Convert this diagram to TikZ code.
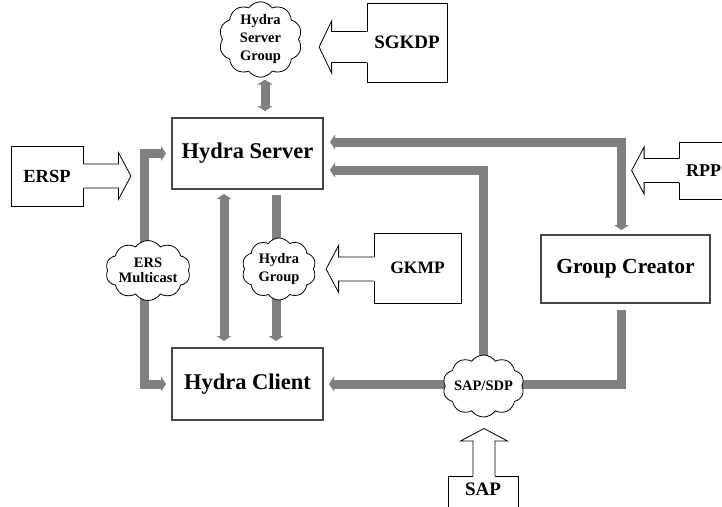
\documentclass[tikz,border=0pt]{standalone}
\usepackage{fontspec}
\setmainfont{Liberation Serif}
\usetikzlibrary{shapes.symbols,arrows.meta,calc}
\pgfdeclarelayer{bg}
\pgfsetlayers{bg,main}
\definecolor{pipegray}{RGB}{128,128,128}
\definecolor{edgegray}{RGB}{70,70,70}
\tikzset{
 mainbox/.style={draw=edgegray, line width=2pt, fill=white, font=\fontsize{22.5}{26}\selectfont\bfseries, inner sep=0pt},
 smallbox/.style={draw=black, line width=0.8pt, fill=white, font=\fontsize{17.5}{20}\selectfont\bfseries, inner sep=0pt},
 bigtext/.style={font=\fontsize{19}{22}\selectfont\bfseries},
 puff/.style={cloud, cloud puffs=10, cloud puff arc=110, cloud ignores aspect, draw=black, line width=0.8pt, fill=white, inner sep=0pt, align=center, font=\fontsize{14.5}{18}\selectfont\bfseries},
 pipe/.style={draw=pipegray, line width=9pt},
 ptip/.tip={Triangle[width=15pt,length=5pt]},
 hollow/.style={draw=black, line width=0.8pt}
}
\newcommand{\hollowarr}[4]{%
 \begin{scope}[shift={(#1)}, rotate=#2]
  \fill[white] (-1.5,-#3) -- (35,-#3) -- (35,-#4) -- (47.5,0) -- (35,#4) -- (35,#3) -- (-1.5,#3) -- cycle;
  \draw[hollow] (0,-#3) -- (35,-#3) -- (35,-#4) -- (47.5,0) -- (35,#4) -- (35,#3) -- (0,#3);
 \end{scope}}
\begin{document}
\begin{tikzpicture}[x=1pt,y=-1pt]
\useasboundingbox (0,0) rectangle (722,506);
% main boxes
\node[mainbox, minimum width=151pt, minimum height=71pt] (hs) at (247.5,153.5) {Hydra Server};
\node[mainbox, minimum width=151pt, minimum height=72pt] (hc) at (247.5,384) {Hydra Client};
\node[mainbox, font=\fontsize{21.5}{25}\selectfont\bfseries, minimum width=169pt, minimum height=68pt] (gc) at (625.5,269) {Group Creator};
% clouds
\node[puff, minimum width=83pt, minimum height=73pt] (hsg) at (260.5,39.5) {Hydra\\Server\\Group};
\node[puff, font=\fontsize{14.5}{15}\selectfont\bfseries, minimum width=80pt, minimum height=60pt] (ers) at (148,270.5) {ERS\\Multicast};
\node[puff, minimum width=74pt, minimum height=62pt] (hg) at (279,269) {Hydra\\Group};
\node[puff, minimum width=77pt, minimum height=62pt] (sapc) at (483.5,386) {SAP/SDP};
% protocol boxes
\node[smallbox, bigtext, minimum width=80pt, minimum height=79pt] (sgkdp) at (407,42.5) {SGKDP};
\hollowarr{$(sgkdp.west)+(0,4.5)$}{180}{15.5}{26}
\node[smallbox, font=\fontsize{18.5}{21}\selectfont\bfseries, minimum width=72pt, minimum height=60pt] (ersp) at (47,176) {ERSP};
\hollowarr{ersp.east}{0}{12}{23.5}
\node[smallbox, minimum width=87pt, minimum height=70pt] (gkmp) at (417.5,268) {GKMP};
\hollowarr{$(gkmp.west)+(0,1)$}{180}{12}{23.5}
\node[smallbox, font=\fontsize{18}{21}\selectfont\bfseries, minimum width=48pt, minimum height=57pt] (rpp) at (703.5,170.5) {RPP};
\hollowarr{rpp.west}{180}{12}{23.5}
\node[smallbox, bigtext, anchor=north, minimum width=70pt, inner ysep=5pt, text height=14pt, text depth=30pt] (sapb) at (483,476) {SAP};
\hollowarr{$(sapb.north)+(1,0)$}{90}{11}{23.5}
% pipes
\begin{pgfonlayer}{bg}
\draw[pipe, ptip-ptip] ($(hsg.south)+(4.5,2)$) -- ($(hs.north)+(17.5,-6)$);
\draw[pipe, ptip-ptip] ($(hs.south)+(-23.5,4)$) -- ($(hc.north)+(-23.5,-6)$);
\draw[pipe] ($(hs.south)+(28.5,5)$) -- ($(hg.center)+(-3,0)$);
\draw[pipe, -ptip] ($(hg.center)+(-3,0)$) -- ($(hc.north)+(28.5,-6)$);
\draw[pipe, -ptip] ($(ers.center)+(-4,0)$) |- ($(hs.west)+(-5,0)$);
\draw[pipe, -ptip] ($(ers.center)+(-4,0)$) |- ($(hc.west)+(-5,0)$);
\draw[pipe, ptip-ptip] ($(hs.east)+(6,-11.5)$) -| ($(gc.north)+(-4,-4)$);
\draw[pipe, -ptip] (sapc.center) |- ($(hs.east)+(6,16.5)$);
\draw[pipe, -ptip] ($(gc.south)+(-4,6)$) |- ($(hc.east)+(5,0)$);
\end{pgfonlayer}
\end{tikzpicture}
\end{document}
